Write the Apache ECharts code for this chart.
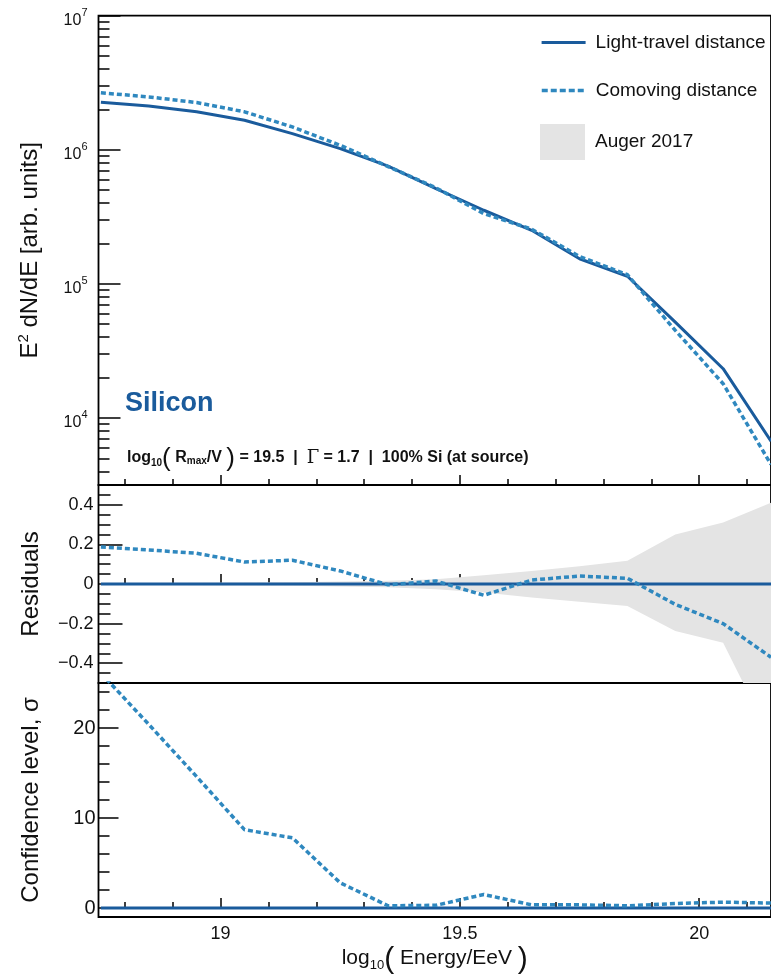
<!DOCTYPE html>
<html><head><meta charset="utf-8">
<script src="https://cdn.jsdelivr.net/npm/echarts@6/dist/echarts.min.js"></script>
<style>html,body{margin:0;padding:0;background:#fff}#c{width:771px;height:976px}</style>
</head><body><div id="c"></div>
<script>
// ---- data ----
const energy = [18.75, 18.85, 18.95, 19.05, 19.15, 19.25, 19.35, 19.45, 19.55, 19.65, 19.75, 19.85, 19.95, 20.05, 20.15];
const fluxLightTravel = [2.26e6, 2.12e6, 1.92e6, 1.66e6, 1.32e6, 1.02e6, 7.55e5, 5.14e5, 3.54e5, 2.51e5, 1.54e5, 1.14e5, 5.19e4, 2.33e4, 6.7e3];
const fluxComoving = [2.66e6, 2.48e6, 2.25e6, 1.92e6, 1.48e6, 1.08e6, 7.5e5, 5.2e5, 3.34e5, 2.56e5, 1.60e5, 1.17e5, 4.5e4, 1.8e4, 4.5e3];
const residLightTravel = [0, 0, 0, 0, 0, 0, 0, 0, 0, 0, 0, 0, 0, 0, 0];
const residComoving = [0.187, 0.172, 0.155, 0.111, 0.12, 0.066, -0.004, 0.015, -0.057, 0.02, 0.04, 0.029, -0.103, -0.2, -0.37];
const augerUpper = [0.004, 0.005, 0.006, 0.007, 0.009, 0.012, 0.017, 0.024, 0.044, 0.066, 0.09, 0.117, 0.25, 0.31, 0.41];
const augerLower = [-0.004, -0.005, -0.006, -0.007, -0.009, -0.012, -0.017, -0.027, -0.043, -0.068, -0.09, -0.111, -0.238, -0.297, -0.78];
const sigmaLightTravel = [0, 0, 0, 0, 0, 0, 0, 0, 0, 0, 0, 0, 0, 0, 0];
const sigmaComoving = [26.1, 20.4, 14.6, 8.7, 7.8, 2.8, 0.25, 0.3, 1.5, 0.35, 0.35, 0.25, 0.5, 0.65, 0.55];
const xTickLabels = [19, 19.5, 20];
const fluxTickExps = [4, 5, 6, 7];
const residTickLabels = [-0.4, -0.2, 0, 0.2, 0.4];
const sigmaTickLabels = [0, 10, 20];

// ---- styling / layout ----
const FONT = 'Liberation Sans, Arial, Helvetica, sans-serif';
const SOLID = '#1a5b9c', DASH = '#2f88bf', BAND = '#e4e4e4';
const LEFT = 98.5, XMIN = 18.745, XMAX = 20.15, PXU = 486.2;
const WIDTH = (XMAX - XMIN) * PXU;
const grids = [
  {top: 15.7, height: 469.3},
  {top: 485, height: 198},
  {top: 683, height: 237}
].map(g => ({left: LEFT, width: WIDTH, top: g.top, height: g.height, show: true,
  borderColor: '#000', borderWidth: 1.8, backgroundColor: 'transparent'}));

const r1 = v => Math.round(v * 1000) / 1000;
const xMinorTicks = []; for (let k = 188; k <= 201; k++) xMinorTicks.push(k / 10);
const fluxMinor = []; for (let e = 3; e <= 6; e++) for (let m = 2; m <= 9; m++) { const v = Math.log10(m * Math.pow(10, e)); if (v > 3.5 && v < 7) fluxMinor.push(v); }
const residMinor = []; for (let k = -9; k <= 9; k++) residMinor.push(r1(k * 0.05));
const sigmaMinor = []; for (let k = 0; k <= 12; k++) sigmaMinor.push(k * 2);

function xAxisDef(gi, ticks, len, labels) {
  return {type: 'value', gridIndex: gi, position: 'bottom', min: XMIN, max: XMAX, splitLine: {show: false},
    axisLine: {show: false},
    axisTick: {show: true, inside: true, length: len, customValues: ticks, lineStyle: {color: '#000', width: 1.5}},
    axisLabel: labels ? {show: true, customValues: labels, fontSize: 18, color: '#111', margin: 8, fontFamily: FONT} : {show: false}};
}
const xAxes = [
  xAxisDef(0, xMinorTicks, 6), xAxisDef(1, xMinorTicks, 6), xAxisDef(2, xMinorTicks, 6),
  xAxisDef(0, xTickLabels, 10), xAxisDef(1, xTickLabels, 10), xAxisDef(2, xTickLabels, 10, xTickLabels)
];
xAxes[5].name = '{t|log}{sub|10}{par|(}{t| Energy/EeV }{par|)}';
xAxes[5].nameLocation = 'middle';
xAxes[5].nameGap = 24;
xAxes[5].nameTextStyle = {fontFamily: FONT, color: '#111', rich: {
  t: {fontSize: 21, fontFamily: FONT, color: '#111'},
  sub: {fontSize: 13, fontFamily: FONT, color: '#111', padding: [14, 0, 0, 0]},
  par: {fontSize: 30, fontFamily: FONT, color: '#111', padding: [4, 0, 0, 0]}
}};

function yAxisDef(gi, min, max, ticks, len, labels, fmt, fs, margin) {
  const a = {type: 'value', gridIndex: gi, position: 'left', min: min, max: max, splitLine: {show: false},
    axisLine: {show: false},
    axisTick: {show: true, inside: true, length: len, customValues: ticks, lineStyle: {color: '#000', width: 1.5}},
    axisLabel: {show: false}};
  if (labels) a.axisLabel = {show: true, customValues: labels, formatter: fmt, fontSize: fs, color: '#111', margin: margin, fontFamily: FONT,
    rich: {b: {fontSize: fs, fontFamily: FONT, color: '#111', padding: [10, 0, 0, 0]}, s: {fontSize: 11, fontFamily: FONT, color: '#111', padding: [0, 0, 6, 0]}}};
  return a;
}
const minusFmt = v => (v < 0 ? '\u2212' + String(Math.abs(v)) : String(v));
const yAxes = [
  yAxisDef(0, 3.5, 7, fluxTickExps, 22, fluxTickExps, v => '{b|10}{s|' + Math.round(v) + '}', 16, 11),
  yAxisDef(0, 3.5, 7, fluxMinor, 11),
  yAxisDef(1, -0.5, 0.5, residTickLabels, 24, residTickLabels, minusFmt, 18, 5),
  yAxisDef(1, -0.5, 0.5, residMinor, 12),
  yAxisDef(2, -1, 25, sigmaTickLabels, 20, sigmaTickLabels, minusFmt, 20, 3),
  yAxisDef(2, -1, 25, sigmaMinor, 11)
];
const yName = (ax, name, rich) => Object.assign(ax, {name: name, nameLocation: 'middle', nameGap: 55,
  nameTextStyle: {fontSize: 24, fontFamily: FONT, color: '#111', rich: rich}});
yName(yAxes[0], '{n|E}{sup|2}{n| dN/dE [arb. units]}', {
  n: {fontSize: 24, fontFamily: FONT, color: '#111'},
  sup: {fontSize: 15, fontFamily: FONT, color: '#111', padding: [0, 0, 12, 0]}});
yName(yAxes[2], 'Residuals');
yName(yAxes[4], 'Confidence level, \u03c3');

const pairs = (xs, ys, f) => xs.map((x, i) => [x, f ? f(ys[i]) : ys[i]]);
const solidLine = (xi, yi, ys, f) => ({name: 'Light-travel distance', type: 'line', xAxisIndex: xi, yAxisIndex: yi,
  data: pairs(energy, ys, f), symbol: 'none', showSymbol: false, clip: true,
  lineStyle: {color: SOLID, width: 3}, itemStyle: {color: SOLID}, z: 3});
const dashLine = (xi, yi, ys, f) => ({name: 'Comoving distance', type: 'line', xAxisIndex: xi, yAxisIndex: yi,
  data: pairs(energy, ys, f), symbol: 'none', showSymbol: false, clip: true,
  lineStyle: {color: DASH, width: 3.5, type: [5, 3]}, itemStyle: {color: DASH}, z: 4});

// Auger band: both edges filled towards zero (band always contains 0), union = band
const series = [
  {name: 'Auger 2017', type: 'line', xAxisIndex: 1, yAxisIndex: 2,
    data: pairs(energy, augerUpper), symbol: 'none', showSymbol: false, clip: true,
    lineStyle: {width: 0, opacity: 0}, areaStyle: {color: BAND, opacity: 1, origin: 'auto'}, itemStyle: {color: BAND}, z: 1},
  {name: 'Auger 2017 (lower edge)', type: 'line', xAxisIndex: 1, yAxisIndex: 2,
    data: pairs(energy, augerLower), symbol: 'none', showSymbol: false, clip: true,
    lineStyle: {width: 0, opacity: 0}, areaStyle: {color: BAND, opacity: 1, origin: 'auto'}, itemStyle: {color: BAND}, z: 1, silent: true},
  solidLine(0, 0, fluxLightTravel, Math.log10),
  dashLine(0, 0, fluxComoving, Math.log10),
  solidLine(1, 2, residLightTravel),
  dashLine(1, 2, residComoving),
  solidLine(2, 4, sigmaLightTravel),
  dashLine(2, 4, sigmaComoving)
];

const legendBase = {left: 540, orient: 'vertical', padding: 0, selectedMode: false,
  textStyle: {fontSize: 19, fontFamily: FONT, color: '#111', padding: [0, 0, 0, 5]}};
const hideSym = {color: 'rgba(0,0,0,0)', borderColor: 'rgba(0,0,0,0)', borderWidth: 0, opacity: 0};
const legends = [
  Object.assign({}, legendBase, {data: [{name: 'Light-travel distance', itemStyle: hideSym}], top: 33, itemWidth: 44, itemHeight: 18,
    lineStyle: {width: 3.2, color: SOLID, type: 'solid'}}),
  Object.assign({}, legendBase, {data: [{name: 'Comoving distance', itemStyle: hideSym}], top: 81, itemWidth: 44, itemHeight: 18,
    lineStyle: {width: 3.5, color: DASH, type: [6, 3]}}),
  Object.assign({}, legendBase, {data: [{name: 'Auger 2017', icon: 'rect', itemStyle: {color: BAND}}], top: 124, itemWidth: 45, itemHeight: 36})
];

const chart = echarts.init(document.getElementById('c'), null, {renderer: 'canvas'});
chart.setOption({
  animation: false,
  backgroundColor: '#fff',
  textStyle: {fontFamily: FONT},
  grid: grids,
  xAxis: xAxes,
  yAxis: yAxes,
  legend: legends,
  series: series,
  graphic: [
    {type: 'text', left: 125, top: 390, z: 10, style: {text: 'Silicon', fontSize: 27, fontWeight: 'bold', fontFamily: FONT, fill: SOLID}},
    {type: 'text', left: 127, top: 446, z: 10, style: {
      text: '{t|log}{sub|10}{par|(}{t| R}{sub2|max}{t|/V }{par|)}{t| = 19.5  |  }{g|\u0393}{t| = 1.7  |  100% Si (at source)}',
      fontFamily: FONT, fill: '#111',
      rich: {
        t: {fontSize: 16, fontWeight: 'bold', fontFamily: FONT, fill: '#111'},
        sub: {fontSize: 10, fontWeight: 'bold', fontFamily: FONT, fill: '#111', padding: [10, 0, 0, 0]},
        sub2: {fontSize: 10, fontWeight: 'bold', fontFamily: FONT, fill: '#111', padding: [6, 0, 0, 0]},
        par: {fontSize: 26, fontFamily: FONT, fill: '#111', padding: [2, 0, 0, 0]},
        g: {fontSize: 18, fontFamily: 'DejaVu Serif, Liberation Serif, serif', fill: '#111'}
      }}}
  ]
});
</script>
</body></html>
